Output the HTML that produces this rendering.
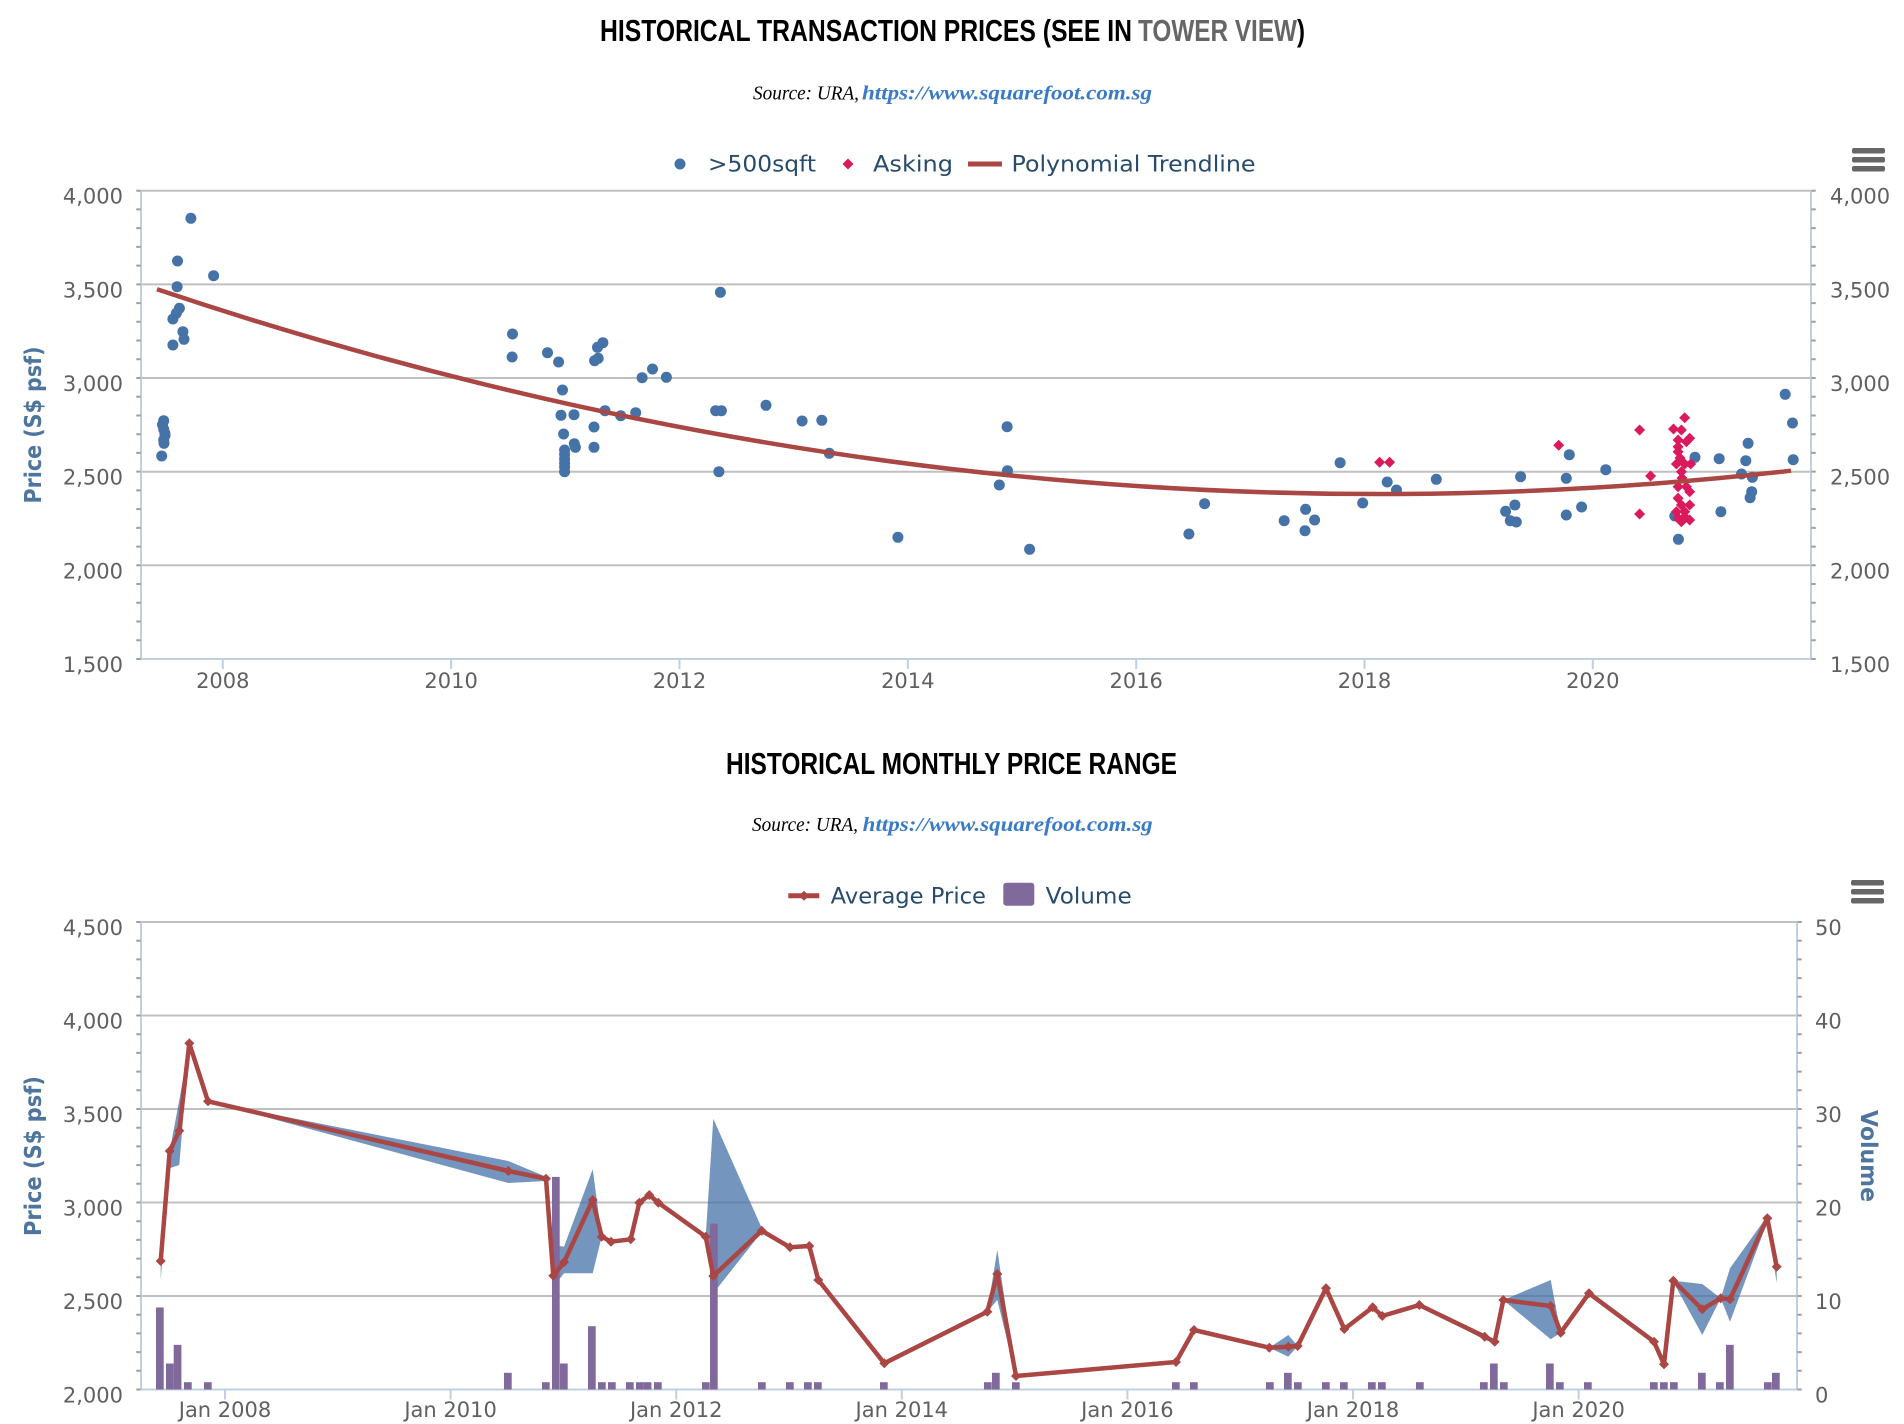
<!DOCTYPE html>
<html><head><meta charset="utf-8"><style>html,body{margin:0;padding:0;background:#fff}svg{display:block}</style></head>
<body>
<svg xmlns="http://www.w3.org/2000/svg" width="1904" height="1424" viewBox="0 0 1904 1424">
<defs>
<path id="dm" d="M0,-5.5L5.5,0L0,5.5L-5.5,0Z"/>
<path id="dl" d="M0,-5L5,0L0,5L-5,0Z"/>
</defs>
<rect width="1904" height="1424" fill="#fff"/>

<!-- ===== TOP CHART ===== -->
<text x="600" y="41" font-family="Liberation Sans, Arial, sans-serif" font-weight="bold" font-size="31" textLength="532" lengthAdjust="spacingAndGlyphs" fill="#000">HISTORICAL TRANSACTION PRICES (SEE IN</text>
<text x="1138" y="41" font-family="Liberation Sans, Arial, sans-serif" font-weight="bold" font-size="31" textLength="159" lengthAdjust="spacingAndGlyphs" fill="#666">TOWER VIEW</text>
<text x="1297" y="41" font-family="Liberation Sans, Arial, sans-serif" font-weight="bold" font-size="31" textLength="8" lengthAdjust="spacingAndGlyphs" fill="#000">)</text>

<text x="753" y="99.5" font-family="Liberation Serif, serif" font-style="italic" font-size="20" textLength="106" lengthAdjust="spacingAndGlyphs" fill="#000">Source: URA,</text>
<text x="862" y="99.5" font-family="Liberation Serif, serif" font-style="italic" font-weight="bold" font-size="20" textLength="290" lengthAdjust="spacingAndGlyphs" fill="#3a7bc8">https://www.squarefoot.com.sg</text>

<!-- legend top -->
<circle cx="680" cy="164" r="5.5" fill="#4572A7"/>
<text x="708" y="171.5" font-family="DejaVu Sans, sans-serif" font-size="22" textLength="108" lengthAdjust="spacingAndGlyphs" fill="#274b6d">&gt;500sqft</text>
<use href="#dm" x="848" y="164" fill="#DB1A5B"/>
<text x="873" y="171.5" font-family="DejaVu Sans, sans-serif" font-size="22" textLength="80" lengthAdjust="spacingAndGlyphs" fill="#274b6d">Asking</text>
<line x1="968" y1="164" x2="1002" y2="164" stroke="#AA4643" stroke-width="5"/>
<text x="1011.5" y="171.5" font-family="DejaVu Sans, sans-serif" font-size="22" textLength="244" lengthAdjust="spacingAndGlyphs" fill="#274b6d">Polynomial Trendline</text>

<!-- hamburger top -->
<g fill="#666">
<rect x="1852" y="148" width="33" height="5.5" rx="2"/>
<rect x="1852" y="157" width="33" height="5.5" rx="2"/>
<rect x="1852" y="166" width="33" height="5.5" rx="2"/>
</g>

<!-- grid -->
<g stroke="#C0C0C0" stroke-width="2">
<line x1="141" y1="190.7" x2="1811" y2="190.7"/>
<line x1="141" y1="284.4" x2="1811" y2="284.4"/>
<line x1="141" y1="378" x2="1811" y2="378"/>
<line x1="141" y1="471.7" x2="1811" y2="471.7"/>
<line x1="141" y1="565.3" x2="1811" y2="565.3"/>
</g>
<!-- axes -->
<g stroke="#C0D0E0" stroke-width="2">
<line x1="141" y1="190.7" x2="141" y2="660"/>
<line x1="1811" y1="190.7" x2="1811" y2="660"/>
<line x1="140" y1="659" x2="1812" y2="659"/>
<line x1="222.8" y1="659" x2="222.8" y2="669"/>
<line x1="451.1" y1="659" x2="451.1" y2="669"/>
<line x1="679.5" y1="659" x2="679.5" y2="669"/>
<line x1="907.8" y1="659" x2="907.8" y2="669"/>
<line x1="1136.2" y1="659" x2="1136.2" y2="669"/>
<line x1="1364.5" y1="659" x2="1364.5" y2="669"/>
<line x1="1592.8" y1="659" x2="1592.8" y2="669"/>
</g>
<!-- minor ticks -->
<line x1="138.5" y1="189.7" x2="138.5" y2="661" stroke="#A0A0A0" stroke-width="4.5" stroke-dasharray="2 16.73"/>
<line x1="1813.5" y1="189.7" x2="1813.5" y2="661" stroke="#A0A0A0" stroke-width="4.5" stroke-dasharray="2 16.73"/>

<!-- y labels top -->
<g font-family="DejaVu Sans, sans-serif" font-size="21" fill="#606060" text-anchor="end">
<text x="123" y="203.7">4,000</text>
<text x="123" y="297.4">3,500</text>
<text x="123" y="391">3,000</text>
<text x="123" y="484.7">2,500</text>
<text x="123" y="578.3">2,000</text>
<text x="123" y="672">1,500</text>
</g>
<g font-family="DejaVu Sans, sans-serif" font-size="21" fill="#606060" text-anchor="start">
<text x="1830" y="203.7">4,000</text>
<text x="1830" y="297.4">3,500</text>
<text x="1830" y="391">3,000</text>
<text x="1830" y="484.7">2,500</text>
<text x="1830" y="578.3">2,000</text>
<text x="1830" y="672">1,500</text>
</g>
<g font-family="DejaVu Sans, sans-serif" font-size="21" fill="#606060" text-anchor="middle">
<text x="222.8" y="688">2008</text>
<text x="451.1" y="688">2010</text>
<text x="679.5" y="688">2012</text>
<text x="907.8" y="688">2014</text>
<text x="1136.2" y="688">2016</text>
<text x="1364.5" y="688">2018</text>
<text x="1592.8" y="688">2020</text>
</g>
<text transform="translate(41,425) rotate(-90)" text-anchor="middle" font-family="DejaVu Sans, sans-serif" font-weight="bold" font-size="23" textLength="157" lengthAdjust="spacingAndGlyphs" fill="#4d759e">Price (S$ psf)</text>

<!-- scatter blue -->
<g fill="#4572A7">
<circle cx="190.9" cy="218.3" r="5.5"/><circle cx="177.5" cy="261" r="5.5"/><circle cx="177.1" cy="286.7" r="5.5"/><circle cx="213.6" cy="275.7" r="5.5"/>
<circle cx="179.4" cy="308.3" r="5.5"/><circle cx="176.3" cy="313.3" r="5.5"/><circle cx="172.9" cy="319" r="5.5"/><circle cx="182.9" cy="331.7" r="5.5"/>
<circle cx="184" cy="339.3" r="5.5"/><circle cx="172.9" cy="345" r="5.5"/><circle cx="163.7" cy="420.7" r="5.5"/><circle cx="162.5" cy="424.7" r="5.5"/>
<circle cx="163.7" cy="429.3" r="5.5"/><circle cx="164.9" cy="433.3" r="5.5"/><circle cx="165" cy="435.5" r="5.5"/><circle cx="163.7" cy="440" r="5.5"/>
<circle cx="164" cy="443.3" r="5.5"/><circle cx="161.7" cy="456" r="5.5"/>
<circle cx="512.5" cy="334" r="5.5"/><circle cx="512.1" cy="357" r="5.5"/><circle cx="547.5" cy="352.7" r="5.5"/><circle cx="558.6" cy="362" r="5.5"/>
<circle cx="562.5" cy="390" r="5.5"/><circle cx="561" cy="415.3" r="5.5"/><circle cx="574" cy="414.7" r="5.5"/><circle cx="563.6" cy="434" r="5.5"/>
<circle cx="574.3" cy="443.7" r="5.5"/><circle cx="575.4" cy="447.3" r="5.5"/><circle cx="564.6" cy="450" r="5.5"/><circle cx="564.6" cy="454.5" r="5.5"/>
<circle cx="564.6" cy="459" r="5.5"/><circle cx="564.6" cy="463" r="5.5"/><circle cx="564.6" cy="467" r="5.5"/><circle cx="564.6" cy="471.7" r="5.5"/>
<circle cx="594" cy="447.3" r="5.5"/><circle cx="594" cy="427" r="5.5"/><circle cx="594.6" cy="360.7" r="5.5"/><circle cx="598.2" cy="358.3" r="5.5"/>
<circle cx="597.5" cy="347.3" r="5.5"/><circle cx="602.9" cy="342.7" r="5.5"/><circle cx="605" cy="410.7" r="5.5"/><circle cx="620.7" cy="415.7" r="5.5"/>
<circle cx="635.7" cy="412.7" r="5.5"/><circle cx="642.1" cy="377.7" r="5.5"/><circle cx="652.5" cy="369" r="5.5"/><circle cx="666.4" cy="377.3" r="5.5"/>
<circle cx="720.4" cy="292.3" r="5.5"/><circle cx="715.7" cy="410.7" r="5.5"/><circle cx="721.4" cy="410.7" r="5.5"/><circle cx="718.9" cy="471.7" r="5.5"/>
<circle cx="766" cy="405.3" r="5.5"/><circle cx="802.1" cy="421" r="5.5"/><circle cx="821.8" cy="420.3" r="5.5"/><circle cx="829.3" cy="453.3" r="5.5"/>
<circle cx="897.9" cy="537.3" r="5.5"/><circle cx="1007.1" cy="426.7" r="5.5"/><circle cx="1007.5" cy="470.7" r="5.5"/><circle cx="999.3" cy="485" r="5.5"/>
<circle cx="1029.6" cy="549.3" r="5.5"/>
<circle cx="1188.9" cy="534" r="5.5"/><circle cx="1204.6" cy="503.7" r="5.5"/><circle cx="1284.2" cy="520.7" r="5.5"/>
<circle cx="1305.6" cy="509.3" r="5.5"/><circle cx="1314.6" cy="520" r="5.5"/><circle cx="1305" cy="530.7" r="5.5"/><circle cx="1340.1" cy="462.7" r="5.5"/>
<circle cx="1362.7" cy="503" r="5.5"/><circle cx="1387.2" cy="482" r="5.5"/><circle cx="1396.5" cy="490" r="5.5"/><circle cx="1436.3" cy="479.3" r="5.5"/>
<circle cx="1505.6" cy="511.3" r="5.5"/><circle cx="1514.9" cy="505" r="5.5"/><circle cx="1510.3" cy="520.7" r="5.5"/><circle cx="1516.3" cy="522" r="5.5"/>
<circle cx="1520.6" cy="476.7" r="5.5"/><circle cx="1569.3" cy="454.7" r="5.5"/><circle cx="1566.3" cy="478.3" r="5.5"/><circle cx="1566.3" cy="515" r="5.5"/>
<circle cx="1581.6" cy="507" r="5.5"/><circle cx="1605.8" cy="469.7" r="5.5"/><circle cx="1695" cy="457.3" r="5.5"/><circle cx="1678.4" cy="539.3" r="5.5"/>
<circle cx="1674.8" cy="516" r="5.5"/><circle cx="1719.2" cy="458.7" r="5.5"/><circle cx="1720.9" cy="511.7" r="5.5"/><circle cx="1748.1" cy="443.3" r="5.5"/>
<circle cx="1745.8" cy="460.7" r="5.5"/><circle cx="1741.5" cy="474" r="5.5"/><circle cx="1752.4" cy="477.3" r="5.5"/><circle cx="1751.7" cy="491.7" r="5.5"/>
<circle cx="1750.1" cy="497.7" r="5.5"/><circle cx="1785.2" cy="394.3" r="5.5"/><circle cx="1792.5" cy="423" r="5.5"/><circle cx="1793.2" cy="459.7" r="5.5"/>
</g>
<!-- scatter pink -->
<g fill="#DB1A5B">
<use href="#dm" x="1379.6" y="462.3"/><use href="#dm" x="1389.6" y="462.3"/><use href="#dm" x="1558.7" y="445.3"/>
<use href="#dm" x="1639.6" y="430"/><use href="#dm" x="1650.6" y="476"/><use href="#dm" x="1639.6" y="514"/>
<use href="#dm" x="1673.5" y="429"/><use href="#dm" x="1681.4" y="430"/><use href="#dm" x="1684.7" y="417.7"/>
<use href="#dm" x="1678.1" y="440"/><use href="#dm" x="1686.4" y="441.7"/><use href="#dm" x="1689.7" y="438.3"/>
<use href="#dm" x="1678.1" y="446.7"/><use href="#dm" x="1678.1" y="451.7"/><use href="#dm" x="1676.4" y="464"/>
<use href="#dm" x="1684.7" y="464"/><use href="#dm" x="1690.7" y="464"/><use href="#dm" x="1681.4" y="471.7"/>
<use href="#dm" x="1678.1" y="486.7"/><use href="#dm" x="1686.4" y="486.7"/><use href="#dm" x="1689.7" y="491.7"/>
<use href="#dm" x="1678.1" y="498.3"/><use href="#dm" x="1681.4" y="505"/><use href="#dm" x="1689.7" y="505"/>
<use href="#dm" x="1676.4" y="511.7"/><use href="#dm" x="1684.7" y="511.7"/><use href="#dm" x="1678.1" y="518.3"/>
<use href="#dm" x="1689.7" y="520"/><use href="#dm" x="1681.4" y="521.7"/><use href="#dm" x="1684.7" y="516.7"/>
<use href="#dm" x="1682" y="478"/><use href="#dm" x="1680" y="458"/>
</g>
<!-- trendline -->
<path d="M157 289.3 Q974 563.2 1791 470.7" fill="none" stroke="#AA4643" stroke-width="4.5"/>

<!-- ===== BOTTOM CHART ===== -->
<text x="726" y="774" font-family="Liberation Sans, Arial, sans-serif" font-weight="bold" font-size="31" textLength="451" lengthAdjust="spacingAndGlyphs" fill="#000">HISTORICAL MONTHLY PRICE RANGE</text>
<text x="752" y="831.2" font-family="Liberation Serif, serif" font-style="italic" font-size="20" textLength="106" lengthAdjust="spacingAndGlyphs" fill="#000">Source: URA,</text>
<text x="862.7" y="831.2" font-family="Liberation Serif, serif" font-style="italic" font-weight="bold" font-size="20" textLength="290" lengthAdjust="spacingAndGlyphs" fill="#3a7bc8">https://www.squarefoot.com.sg</text>

<line x1="788.3" y1="895.7" x2="819.3" y2="895.7" stroke="#AA4643" stroke-width="5"/>
<use href="#dl" x="804" y="895.7" fill="#AA4643"/>
<text x="830.7" y="903.3" font-family="DejaVu Sans, sans-serif" font-size="22" textLength="155.3" lengthAdjust="spacingAndGlyphs" fill="#274b6d">Average Price</text>
<rect x="1003.3" y="882.7" width="31" height="23" rx="3" fill="#80699B"/>
<text x="1045.7" y="903.3" font-family="DejaVu Sans, sans-serif" font-size="22" textLength="86" lengthAdjust="spacingAndGlyphs" fill="#274b6d">Volume</text>

<g fill="#666">
<rect x="1851" y="880" width="33" height="5.5" rx="2"/>
<rect x="1851" y="889" width="33" height="5.5" rx="2"/>
<rect x="1851" y="898" width="33" height="5.5" rx="2"/>
</g>

<g stroke="#C0C0C0" stroke-width="2">
<line x1="141" y1="922" x2="1797" y2="922"/>
<line x1="141" y1="1015.5" x2="1797" y2="1015.5"/>
<line x1="141" y1="1109" x2="1797" y2="1109"/>
<line x1="141" y1="1202.5" x2="1797" y2="1202.5"/>
<line x1="141" y1="1296" x2="1797" y2="1296"/>
</g>
<g stroke="#C0D0E0" stroke-width="2">
<line x1="141" y1="922" x2="141" y2="1390.5"/>
<line x1="1797" y1="922" x2="1797" y2="1390.5"/>
<line x1="140" y1="1389.5" x2="1798" y2="1389.5"/>
<line x1="225" y1="1389.5" x2="225" y2="1399.5"/>
<line x1="450.6" y1="1389.5" x2="450.6" y2="1399.5"/>
<line x1="676.2" y1="1389.5" x2="676.2" y2="1399.5"/>
<line x1="901.8" y1="1389.5" x2="901.8" y2="1399.5"/>
<line x1="1127.4" y1="1389.5" x2="1127.4" y2="1399.5"/>
<line x1="1353" y1="1389.5" x2="1353" y2="1399.5"/>
<line x1="1578.6" y1="1389.5" x2="1578.6" y2="1399.5"/>
</g>
<line x1="138.5" y1="921" x2="138.5" y2="1391" stroke="#A0A0A0" stroke-width="4.5" stroke-dasharray="2 16.7"/>
<line x1="1799.5" y1="921" x2="1799.5" y2="1391" stroke="#A0A0A0" stroke-width="4.5" stroke-dasharray="2 16.7"/>

<g font-family="DejaVu Sans, sans-serif" font-size="21" fill="#606060" text-anchor="end">
<text x="123" y="935">4,500</text>
<text x="123" y="1028.5">4,000</text>
<text x="123" y="1122">3,500</text>
<text x="123" y="1215.5">3,000</text>
<text x="123" y="1309">2,500</text>
<text x="123" y="1402.5">2,000</text>
</g>
<g font-family="DejaVu Sans, sans-serif" font-size="21" fill="#606060" text-anchor="start">
<text x="1815" y="935">50</text>
<text x="1815" y="1028.5">40</text>
<text x="1815" y="1122">30</text>
<text x="1815" y="1215.5">20</text>
<text x="1815" y="1309">10</text>
<text x="1815" y="1402.5">0</text>
</g>
<g font-family="DejaVu Sans, sans-serif" font-size="21" fill="#606060" text-anchor="middle">
<text x="225" y="1417">Jan 2008</text>
<text x="450.6" y="1417">Jan 2010</text>
<text x="676.2" y="1417">Jan 2012</text>
<text x="901.8" y="1417">Jan 2014</text>
<text x="1127.4" y="1417">Jan 2016</text>
<text x="1353" y="1417">Jan 2018</text>
<text x="1578.6" y="1417">Jan 2020</text>
</g>
<text transform="translate(41,1156) rotate(-90)" text-anchor="middle" font-family="DejaVu Sans, sans-serif" font-weight="bold" font-size="23" textLength="160" lengthAdjust="spacingAndGlyphs" fill="#4d759e">Price (S$ psf)</text>
<text transform="translate(1861,1156) rotate(90)" text-anchor="middle" font-family="DejaVu Sans, sans-serif" font-weight="bold" font-size="23" textLength="92" lengthAdjust="spacingAndGlyphs" fill="#4d759e">Volume</text>

<!-- range band -->
<polygon fill="#4572A7" fill-opacity="0.75" points="160.7,1261 169.7,1151 179.3,1100 189.3,1043.3 208,1101.3 508.3,1161 546,1176.7 553.3,1245 564,1246.7 592.7,1169.3 601.7,1236.7 611,1241.7 630.7,1239.3 639.3,1202.7 649.3,1195 658.3,1202.7 705.7,1236.7 713.3,1118.7 761.7,1228 790,1247.3 809.3,1246 818.3,1280 884.3,1363.3 987.3,1311.7 997.3,1250 1016,1376 1176,1362 1194,1330 1269.3,1347.7 1288.3,1335 1297.7,1346 1326,1288.3 1344.3,1329 1372.7,1307.3 1382.3,1316 1419.3,1305 1484.7,1334 1494.7,1341.7 1503.3,1300 1550.7,1280 1560.7,1332.7 1589,1293.3 1654,1341.7 1664,1364.3 1673.3,1280.7 1702.3,1284 1720.7,1298.3 1730,1268.3 1767.3,1216 1776.7,1262 1776.7,1283.3 1767.3,1222 1730,1321.7 1720.7,1298.3 1702.3,1335 1673.3,1282 1664,1364.3 1654,1341.7 1589,1293.3 1560.7,1332.7 1550.7,1339.3 1503.3,1300 1494.7,1341.7 1484.7,1340 1419.3,1305 1382.3,1316 1372.7,1307.3 1344.3,1329 1326,1288.3 1297.7,1346 1288.3,1356.7 1269.3,1347.7 1194,1330 1176,1362 1016,1376 997.3,1300 987.3,1311.7 884.3,1363.3 818.3,1280 809.3,1246 790,1247.3 761.7,1232 713.3,1293.3 705.7,1236.7 658.3,1202.7 649.3,1195 639.3,1202.7 630.7,1239.3 611,1241.7 601.7,1236.7 592.7,1273.3 564,1273.3 553.3,1287 546,1181 508.3,1183 208,1101.3 189.3,1043.3 179.3,1165 169.7,1168.3 160.7,1280"/>

<!-- volume columns -->
<g fill="#80699B">
<rect x="156" y="1307.5" width="7.7" height="82"/>
<rect x="166" y="1363.5" width="7.7" height="26"/>
<rect x="173.7" y="1344.85" width="7.7" height="44.65"/>
<rect x="184" y="1382.2" width="7.7" height="7.3"/>
<rect x="204" y="1382.2" width="7.7" height="7.3"/>
<rect x="504" y="1372.8" width="7.7" height="16.7"/>
<rect x="542" y="1382.2" width="7.7" height="7.3"/>
<rect x="552" y="1176.9" width="7.7" height="212.6"/>
<rect x="560" y="1363.5" width="7.7" height="26"/>
<rect x="588" y="1326.2" width="7.7" height="63.3"/>
<rect x="598" y="1382.2" width="7.7" height="7.3"/>
<rect x="608" y="1382.2" width="7.7" height="7.3"/>
<rect x="626" y="1382.2" width="7.7" height="7.3"/>
<rect x="636" y="1382.2" width="7.7" height="7.3"/>
<rect x="643.7" y="1382.2" width="7.7" height="7.3"/>
<rect x="654" y="1382.2" width="7.7" height="7.3"/>
<rect x="702" y="1382.2" width="7.7" height="7.3"/>
<rect x="710" y="1223.6" width="7.7" height="165.9"/>
<rect x="758" y="1382.2" width="7.7" height="7.3"/>
<rect x="786" y="1382.2" width="7.7" height="7.3"/>
<rect x="804" y="1382.2" width="7.7" height="7.3"/>
<rect x="814" y="1382.2" width="7.7" height="7.3"/>
<rect x="880" y="1382.2" width="7.7" height="7.3"/>
<rect x="984" y="1382.2" width="7.7" height="7.3"/>
<rect x="992" y="1372.8" width="7.7" height="16.7"/>
<rect x="1012" y="1382.2" width="7.7" height="7.3"/>
<rect x="1172" y="1382.2" width="7.7" height="7.3"/>
<rect x="1190" y="1382.2" width="7.7" height="7.3"/>
<rect x="1266" y="1382.2" width="7.7" height="7.3"/>
<rect x="1284" y="1372.8" width="7.7" height="16.7"/>
<rect x="1294" y="1382.2" width="7.7" height="7.3"/>
<rect x="1322" y="1382.2" width="7.7" height="7.3"/>
<rect x="1340" y="1382.2" width="7.7" height="7.3"/>
<rect x="1368" y="1382.2" width="7.7" height="7.3"/>
<rect x="1378" y="1382.2" width="7.7" height="7.3"/>
<rect x="1416" y="1382.2" width="7.7" height="7.3"/>
<rect x="1480" y="1382.2" width="7.7" height="7.3"/>
<rect x="1490" y="1363.5" width="7.7" height="26"/>
<rect x="1500" y="1382.2" width="7.7" height="7.3"/>
<rect x="1546" y="1363.5" width="7.7" height="26"/>
<rect x="1556" y="1382.2" width="7.7" height="7.3"/>
<rect x="1584" y="1382.2" width="7.7" height="7.3"/>
<rect x="1650" y="1382.2" width="7.7" height="7.3"/>
<rect x="1660" y="1382.2" width="7.7" height="7.3"/>
<rect x="1670" y="1382.2" width="7.7" height="7.3"/>
<rect x="1698" y="1372.8" width="7.7" height="16.7"/>
<rect x="1716" y="1382.2" width="7.7" height="7.3"/>
<rect x="1726" y="1344.85" width="7.7" height="44.65"/>
<rect x="1764" y="1382.2" width="7.7" height="7.3"/>
<rect x="1772" y="1372.8" width="7.7" height="16.7"/>
</g>

<!-- average price line -->
<polyline fill="none" stroke="#AA4643" stroke-width="4.5" stroke-linejoin="round" points="160.7,1261 169.7,1151 179.3,1130.7 189.3,1043.3 208,1101.3 508.3,1171 546,1178.7 553.3,1275.7 564,1262.3 592.7,1200 601.7,1236.7 611,1241.7 630.7,1239.3 639.3,1202.7 649.3,1195 658.3,1202.7 705.7,1236.7 713.3,1276 761.7,1230.7 790,1247.3 809.3,1246 818.3,1280 884.3,1363.3 987.3,1311.7 997.3,1274 1016,1376 1176,1362 1194,1330 1269.3,1347.7 1288.3,1346.7 1297.7,1346 1326,1288.3 1344.3,1329 1372.7,1307.3 1382.3,1316 1419.3,1305 1484.7,1336.7 1494.7,1341.7 1503.3,1300 1550.7,1306 1560.7,1332.7 1589,1293.3 1654,1341.7 1664,1364.3 1673.3,1280.7 1702.3,1309.3 1720.7,1298.3 1730,1299.3 1767.3,1218.3 1776.7,1266.7"/>
<g fill="#AA4643">
<use href="#dl" x="160.7" y="1261"/><use href="#dl" x="169.7" y="1151"/><use href="#dl" x="179.3" y="1130.7"/><use href="#dl" x="189.3" y="1043.3"/>
<use href="#dl" x="208" y="1101.3"/><use href="#dl" x="508.3" y="1171"/><use href="#dl" x="546" y="1178.7"/><use href="#dl" x="553.3" y="1275.7"/>
<use href="#dl" x="564" y="1262.3"/><use href="#dl" x="592.7" y="1200"/><use href="#dl" x="601.7" y="1236.7"/><use href="#dl" x="611" y="1241.7"/>
<use href="#dl" x="630.7" y="1239.3"/><use href="#dl" x="639.3" y="1202.7"/><use href="#dl" x="649.3" y="1195"/><use href="#dl" x="658.3" y="1202.7"/>
<use href="#dl" x="705.7" y="1236.7"/><use href="#dl" x="713.3" y="1276"/><use href="#dl" x="761.7" y="1230.7"/><use href="#dl" x="790" y="1247.3"/>
<use href="#dl" x="809.3" y="1246"/><use href="#dl" x="818.3" y="1280"/><use href="#dl" x="884.3" y="1363.3"/><use href="#dl" x="987.3" y="1311.7"/>
<use href="#dl" x="997.3" y="1274"/><use href="#dl" x="1016" y="1376"/><use href="#dl" x="1176" y="1362"/><use href="#dl" x="1194" y="1330"/>
<use href="#dl" x="1269.3" y="1347.7"/><use href="#dl" x="1288.3" y="1346.7"/><use href="#dl" x="1297.7" y="1346"/><use href="#dl" x="1326" y="1288.3"/>
<use href="#dl" x="1344.3" y="1329"/><use href="#dl" x="1372.7" y="1307.3"/><use href="#dl" x="1382.3" y="1316"/><use href="#dl" x="1419.3" y="1305"/>
<use href="#dl" x="1484.7" y="1336.7"/><use href="#dl" x="1494.7" y="1341.7"/><use href="#dl" x="1503.3" y="1300"/><use href="#dl" x="1550.7" y="1306"/>
<use href="#dl" x="1560.7" y="1332.7"/><use href="#dl" x="1589" y="1293.3"/><use href="#dl" x="1654" y="1341.7"/><use href="#dl" x="1664" y="1364.3"/>
<use href="#dl" x="1673.3" y="1280.7"/><use href="#dl" x="1702.3" y="1309.3"/><use href="#dl" x="1720.7" y="1298.3"/><use href="#dl" x="1730" y="1299.3"/>
<use href="#dl" x="1767.3" y="1218.3"/><use href="#dl" x="1776.7" y="1266.7"/>
</g>
</svg>
</body></html>
